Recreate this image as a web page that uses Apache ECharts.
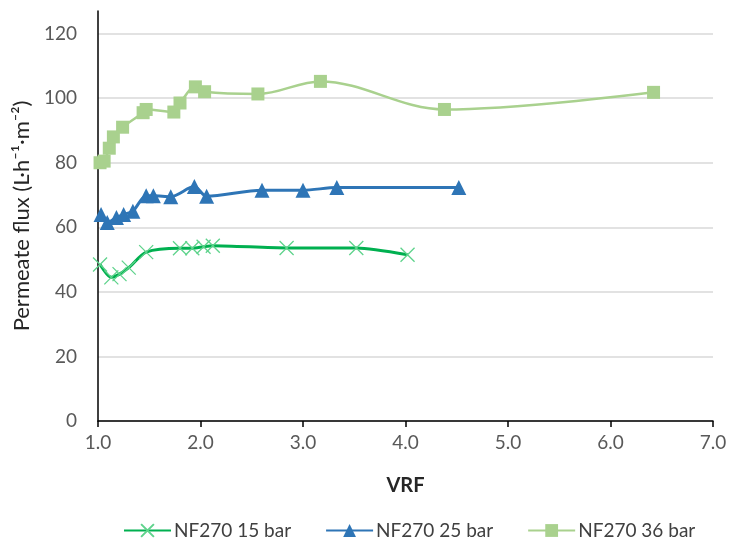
<!DOCTYPE html>
<html>
<head>
<meta charset="utf-8">
<script src="https://cdn.jsdelivr.net/npm/echarts@6/dist/echarts.min.js"></script>
<style>
  html, body { margin: 0; padding: 0; background: #fff; }
  #chart { width: 730px; height: 540px; }
</style>
</head>
<body>
<div id="chart"></div>
<script>
// Permeate flux versus volume reduction factor for NF270 at three pressures
const seriesNames = ['NF270 15 bar', 'NF270 25 bar', 'NF270 36 bar'];

const vrf15  = [1.02, 1.13, 1.21, 1.30, 1.47, 1.80, 1.92, 2.03, 2.12, 2.84, 3.52, 4.02];
const flux15 = [48.5, 44.5, 45.5, 47.5, 52.3, 53.5, 53.5, 54.0, 54.3, 53.6, 53.6, 51.5];

const vrf25  = [1.03, 1.09, 1.18, 1.25, 1.34, 1.47, 1.54, 1.71, 1.94, 2.06, 2.60, 3.00, 3.33, 4.52];
const flux25 = [64.0, 61.5, 63.0, 64.0, 65.0, 69.8, 69.8, 69.5, 72.6, 69.6, 71.5, 71.5, 72.3, 72.3];

const vrf36  = [1.02, 1.06, 1.11, 1.15, 1.24, 1.44, 1.47, 1.74, 1.80, 1.95, 2.04, 2.56, 3.17, 4.38, 6.42];
const flux36 = [80.0, 80.5, 84.5, 88.0, 91.0, 95.5, 96.5, 95.7, 98.5, 103.5, 102.0, 101.3, 105.2, 96.5, 101.8];

const yTicks = [0, 20, 40, 60, 80, 100, 120];
const xTicks = [1, 2, 3, 4, 5, 6, 7];

const pairs = (xs, ys) => xs.map((x, i) => [x, ys[i]]);

const FONT = 'Lato';
const crossSymbol = 'path://M0,0L10,10M10,0L0,10';

const chart = echarts.init(document.getElementById('chart'), null, { renderer: 'canvas' });

chart.setOption({
  animation: false,
  backgroundColor: '#ffffff',
  textStyle: { fontFamily: FONT },
  grid: { left: 98, right: 17, top: 11, bottom: 119, containLabel: false },
  xAxis: {
    type: 'value',
    min: xTicks[0],
    max: xTicks[xTicks.length - 1],
    interval: 1,
    name: 'VRF',
    nameLocation: 'middle',
    nameGap: 55,
    nameTextStyle: { fontFamily: FONT, fontSize: 20, fontWeight: 'bold', color: '#262626' },
    axisLine: { show: true, onZero: false, lineStyle: { color: '#000', width: 1.5 } },
    axisTick: { show: true, inside: false, length: 6, lineStyle: { color: '#000', width: 1.5 } },
    axisLabel: {
      margin: 12,
      fontFamily: FONT, fontSize: 19, color: '#595959',
      formatter: v => v.toFixed(1)
    },
    splitLine: { show: false }
  },
  yAxis: {
    type: 'value',
    min: yTicks[0],
    max: 127,
    interval: 20,
    name: 'Permeate flux (L·h⁻¹·m⁻²)',
    nameLocation: 'middle',
    nameGap: 64,
    nameTextStyle: { fontFamily: FONT, fontSize: 22, color: '#262626' },
    axisLine: { show: true, lineStyle: { color: '#000', width: 1.5 } },
    axisTick: { show: false },
    axisLabel: {
      margin: 21,
      fontFamily: FONT, fontSize: 19, color: '#595959',
      showMaxLabel: false,
      formatter: v => (yTicks.indexOf(v) >= 0 ? String(v) : '')
    },
    splitLine: {
      show: true,
      lineStyle: {
        color: ['#d9d9d9', '#d9d9d9', '#d9d9d9', '#d9d9d9', '#d9d9d9', '#d9d9d9', '#d9d9d9', 'rgba(0,0,0,0)'],
        width: 1.5
      }
    }
  },
  legend: {
    left: 118,
    top: 516,
    itemWidth: 47,
    itemHeight: 16,
    itemGap: 34,
    textStyle: { fontFamily: FONT, fontSize: 19, color: '#404040', padding: [0, 0, 0, -2] },
    data: seriesNames
  },
  series: [
    {
      name: seriesNames[0],
      type: 'line',
      data: pairs(vrf15, flux15),
      smooth: 0.25,
      symbol: crossSymbol,
      symbolSize: 14,
      lineStyle: { color: '#00b050', width: 3 },
      itemStyle: { color: 'rgba(0,0,0,0)', borderColor: '#5fd38c', borderWidth: 1.3 },
      z: 4
    },
    {
      name: seriesNames[1],
      type: 'line',
      data: pairs(vrf25, flux25),
      smooth: 0.3,
      symbol: 'triangle',
      symbolSize: 15,
      lineStyle: { color: '#2e75b6', width: 3 },
      itemStyle: { color: '#2e75b6', borderWidth: 0 },
      z: 3
    },
    {
      name: seriesNames[2],
      type: 'line',
      data: pairs(vrf36, flux36),
      smooth: 0.35,
      symbol: 'rect',
      symbolSize: 13,
      lineStyle: { color: '#a9d18e', width: 2.5 },
      itemStyle: { color: '#a9d18e', borderWidth: 0 },
      z: 2
    }
  ]
});
</script>
</body>
</html>
